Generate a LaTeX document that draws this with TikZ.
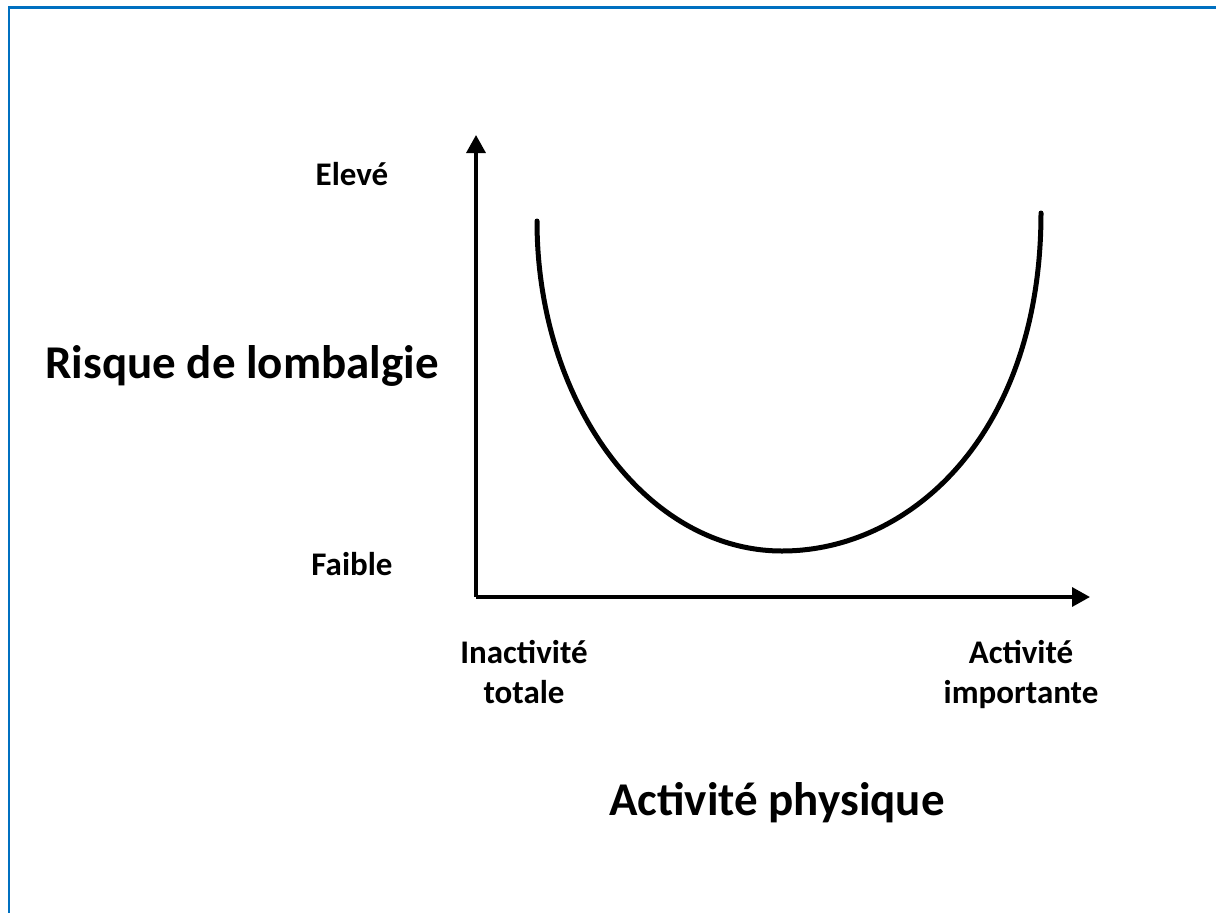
\documentclass[tikz,border=0pt]{standalone}
\usepackage{fontspec}
\setmainfont{Carlito}
\usetikzlibrary{arrows.meta}
\definecolor{frameblue}{HTML}{0070C0}
\tikzset{
  axis/.style={line width=3.4pt,-{Triangle[length=18pt,width=19pt]}},
  curveline/.style={line width=5pt,line cap=round},
  small/.style={font=\bfseries\fontsize{33pt}{40pt}\selectfont,inner sep=0pt,anchor=base},
  big/.style={font=\bfseries\fontsize{47pt}{56pt}\selectfont,inner sep=0pt,anchor=base},
}
\begin{document}
\begin{tikzpicture}[x=1pt,y=-1pt]
\useasboundingbox (0,0) rectangle (1216,913);
\fill[white] (0,0) rectangle (1216,913);
\draw[frameblue,line width=2.6pt] (9,930) -- (9,7.3) -- (1230,7.3);
\coordinate (O) at (476,597);
\coordinate (ytip) at (476,135);
\coordinate (xtip) at (1090,597);
\coordinate (cstart) at (537,221);
\coordinate (cmin) at (782,551);
\coordinate (cend) at (1041,213);
\draw[axis] (O) -- (ytip);
\draw[axis] (O) -- (xtip);
\draw[curveline] (cstart) .. controls (537,403) and (647,551) .. (cmin)
  .. controls (911.5,551) and (1041,433) .. (cend);
\node[small] (eleve) at (352,185) {Elevé};
\node[small] (faible) at (352,575) {Faible};
\node[big] (risque) at (242,378) {Risque de lombalgie};
\node[small] (inact1) at (524,663) {Inactivité};
\node[small] (inact2) at (524,703) {totale};
\node[small] (act1) at (1021,663) {Activité};
\node[small] (act2) at (1021,703) {importante};
\node[big] (phys) at (777,815) {Activité physique};
\end{tikzpicture}
\end{document}
